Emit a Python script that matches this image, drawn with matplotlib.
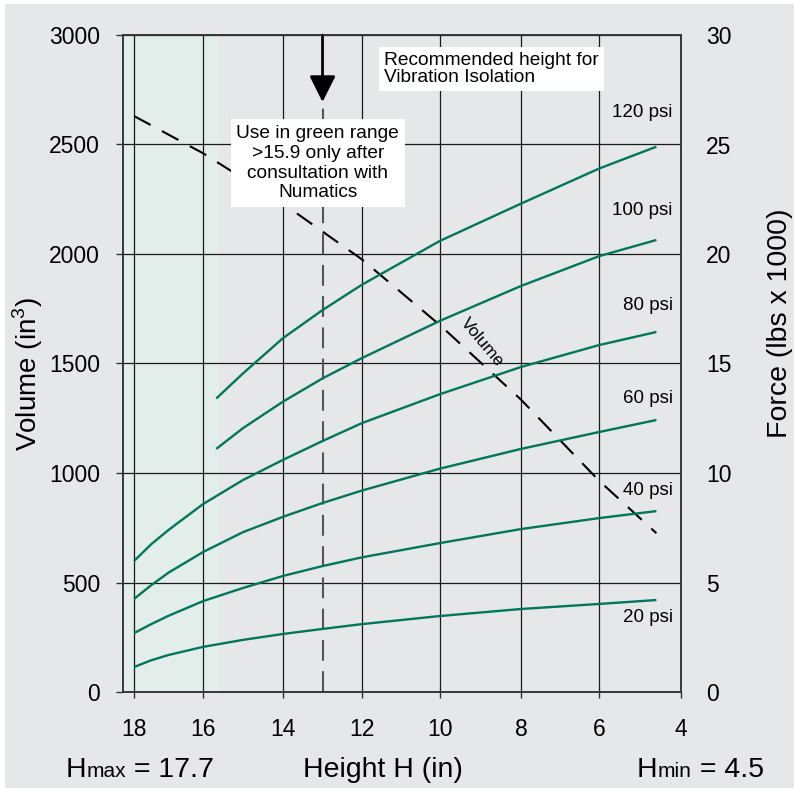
import numpy as np
import matplotlib
matplotlib.use("Agg")
import matplotlib.pyplot as plt
from matplotlib.patches import Rectangle

plt.rcParams['font.family'] = ['Liberation Sans', 'DejaVu Sans']
plt.rcParams['mathtext.fontset'] = 'custom'
plt.rcParams['mathtext.rm'] = 'Liberation Sans'

# ---- data ----
# heights (in) for the curves that start at 18 in, and for 100/120 psi
h_low = [18, 17.5, 17, 16, 15, 14, 13, 12, 10, 8, 6, 4.6]
h_high = [15.67, 15, 14, 13, 12, 10, 8, 6, 4.6]

# force in lbs x 1000
force_20 = [1.14, 1.45, 1.69, 2.06, 2.38, 2.65, 2.88, 3.10, 3.47, 3.79, 4.02, 4.20]
force_40 = [2.69, 3.10, 3.48, 4.15, 4.75, 5.30, 5.75, 6.15, 6.80, 7.44, 7.94, 8.26]
force_60 = [4.25, 4.88, 5.45, 6.39, 7.30, 8.00, 8.63, 9.20, 10.20, 11.10, 11.87, 12.42]
force_80 = [5.98, 6.75, 7.40, 8.58, 9.68, 10.60, 11.46, 12.28, 13.60, 14.84, 15.84, 16.44]
force_100 = [11.1, 12.05, 13.26, 14.32, 15.25, 16.95, 18.54, 19.9, 20.64]
force_120 = [13.4, 14.55, 16.16, 17.44, 18.6, 20.6, 22.3, 23.9, 24.9]

psi_labels = ['20 psi', '40 psi', '60 psi', '80 psi', '100 psi', '120 psi']
psi_label_y = [3.42, 9.18, 13.42, 17.67, 22.0, 26.44]

# volume (in^3) vs height
vol_h = [18, 16, 14, 12, 10, 8, 6, 4.6]
vol = [2630, 2460, 2230, 1975, 1675, 1335, 965, 725]

h_recommended = 13.0
h_green = 15.6

x_ticks = [18, 16, 14, 12, 10, 8, 6, 4]
vol_ticks = [0, 500, 1000, 1500, 2000, 2500, 3000]
force_ticks = [0, 5, 10, 15, 20, 25, 30]

# the height axis in the original is slightly uneven, map it piecewise
hk = [3, 4, 6, 8, 10, 12, 14, 16, 18, 19]
hp = [-41, 0, 82, 160, 241, 319, 398, 478, 547, 581.5]


def fwd(h):
    return np.interp(h, hk, hp)


def inv(p):
    return np.interp(p, hp, hk)


BG = '#e6e7e8'
SHADE = '#e3ede9'
GREEN = '#00775b'
W, H = 794, 798


def px(x, y):
    return x / W, 1 - y / H


fig = plt.figure(figsize=(W / 100, H / 100), dpi=100, facecolor='white')
fig.add_artist(Rectangle((5 / W, 10 / H), 789 / W, 784 / H, transform=fig.transFigure,
                         fc=BG, ec='none', zorder=-5))

ax = fig.add_axes([123 / W, 106 / H, 558 / W, 657 / H])
ax.set_facecolor(BG)
ax.set_xscale('function', functions=(fwd, inv))
ax.set_xlim(18.32, 4)
ax.set_ylim(0, 3000)
ax.set_xticks(x_ticks)
ax.set_xticklabels([str(t) for t in x_ticks])
ax.set_yticks(vol_ticks)
ax.set_axisbelow(True)
ax.grid(True, color='#1a1a1a', lw=0.9, zorder=0.5)

ax.axvspan(18.32, h_green, color=SHADE, lw=0, zorder=0.1)

# volume line
ax.plot(vol_h, vol, color='black', lw=1.5, linestyle=(0, (9, 6.2)), zorder=2)
ax.text(8.96, 1598, 'Volume', rotation=-50, rotation_mode='anchor', ha='center', va='center',
        fontsize=12.5, zorder=3)

# recommended height marker
tip = 2694
ax.plot([h_recommended, h_recommended], [0, tip], color='#555555', lw=1.5,
        linestyle=(0, (10, 5)), zorder=2)
ax.annotate('', xy=(h_recommended, tip), xytext=(h_recommended, 3000),
            arrowprops=dict(arrowstyle='-|>,head_length=0.8,head_width=0.4', color='black',
                            lw=2, shrinkA=0, shrinkB=0, mutation_scale=20),
            annotation_clip=False, zorder=4)

for s in ax.spines.values():
    s.set_color('#333333')
    s.set_linewidth(1.1)
ax.tick_params(axis='y', direction='out', length=5, width=1, pad=11.5, labelsize=16.5,
               color='#333333')
ax.tick_params(axis='x', direction='out', length=4, width=1, pad=15, labelsize=16.5,
               color='#333333')

ax2 = ax.twinx()
ax2.set_ylim(0, 30)
ax2.set_yticks(force_ticks)
ax2.tick_params(axis='y', length=0, pad=18, labelsize=16.5)
for s in ax2.spines.values():
    s.set_color('#333333')
    s.set_linewidth(1.1)

for f in [force_20, force_40, force_60, force_80]:
    ax2.plot(h_low, f, color=GREEN, lw=1.7, solid_capstyle='butt', zorder=3)
for f in [force_100, force_120]:
    ax2.plot(h_high, f, color=GREEN, lw=1.7, solid_capstyle='butt', zorder=3)

for lab, y in zip(psi_labels, psi_label_y):
    ax2.text(4.2, y, lab, ha='right', va='center', fontsize=13.5, zorder=5)

ax2.text(0.468, 0.948, 'Recommended height for\nVibration Isolation', transform=ax2.transAxes,
         ha='left', va='center', fontsize=13.8, linespacing=1.05, zorder=6,
         bbox=dict(boxstyle='square,pad=0.25', fc='white', ec='none'))
ax2.text(0.349, 0.805, 'Use in green range\n>15.9 only after\nconsultation with\nNumatics',
         transform=ax2.transAxes, ha='center', va='center', fontsize=13.8, linespacing=1.22,
         zorder=6, bbox=dict(boxstyle='square,pad=0.3', fc='white', ec='none'))

# axis titles
fig.text(*px(28, 374), 'Volume (in$^\\mathregular{3}$)', rotation=90, ha='center', va='center',
         fontsize=20)
fig.text(*px(780, 323), 'Force (lbs x 1000)', rotation=90, ha='center', va='center',
         fontsize=20.5)
fig.text(*px(383, 777), 'Height H (in)', ha='center', va='baseline', fontsize=20.5)

renderer = fig.canvas.get_renderer()


def label_parts(x0, parts):
    x = x0
    for txt, size in parts:
        t = fig.text(x / W, 1 - 777 / H, txt, ha='left', va='baseline', fontsize=size)
        bb = t.get_window_extent(renderer)
        x = bb.x1


label_parts(66, [('H', 20.5), ('max', 15), (' = 17.7', 20.5)])
label_parts(637, [('H', 20.5), ('min', 15), (' = 4.5', 20.5)])

fig.savefig('out.png', dpi=100, facecolor='white')
